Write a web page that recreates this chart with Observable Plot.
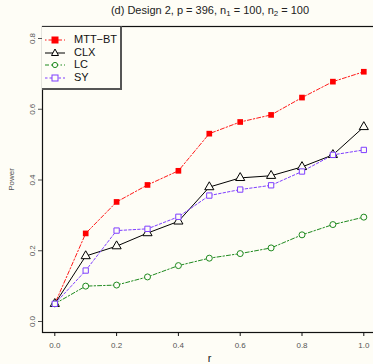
<!DOCTYPE html>
<html><head><meta charset="utf-8">
<script src="https://cdn.jsdelivr.net/npm/d3@7"></script>
<script src="https://cdn.jsdelivr.net/npm/@observablehq/plot@0.6"></script>
<style>
html,body{margin:0;padding:0;background:#fefdf6;}
#wrap{position:relative;width:373px;height:364px;font-family:"Liberation Sans",Arial,sans-serif;overflow:hidden;}
#title{position:absolute;left:0;width:420px;top:4px;text-align:center;font-size:11px;color:#222;}
#title sub{font-size:8px;vertical-align:-2px;line-height:0;}
#legend{position:absolute;left:42px;top:26px;width:80px;height:64px;border:1px solid #333;border-left:none;border-bottom:2px solid #555;border-right:2px solid #555;box-sizing:border-box;background:#fefdf6;}
.li{position:absolute;left:0;height:12px;font-size:11px;color:#111;}
.li svg{position:absolute;left:2px;top:0;}
.li span{position:absolute;left:32px;top:-1px;white-space:nowrap;}
</style></head>
<body><div id="wrap"><div id="title">(d) Design 2, p = 396, n<sub>1</sub> = 100, n<sub>2</sub> = 100</div><div id="chart"></div><div id="legend"></div></div>
<script>
const r = [0, 0.1, 0.2, 0.3, 0.4, 0.5, 0.6, 0.7, 0.8, 0.9, 1.0];
const mttbt = [0.05, 0.249, 0.338, 0.386, 0.426, 0.531, 0.564, 0.584, 0.633, 0.678, 0.706];
const clx   = [0.05, 0.185, 0.213, 0.250, 0.283, 0.380, 0.406, 0.412, 0.437, 0.471, 0.550];
const lc    = [0.05, 0.100, 0.103, 0.126, 0.158, 0.179, 0.192, 0.208, 0.245, 0.274, 0.295];
const sy    = [0.05, 0.144, 0.257, 0.262, 0.296, 0.356, 0.373, 0.385, 0.424, 0.471, 0.485];
const seriesNames = ["MTT\u2212BT", "CLX", "LC", "SY"];
const xTicks = [0, 0.2, 0.4, 0.6, 0.8, 1.0];
const yTicks = [0, 0.2, 0.4, 0.6, 0.8];

const styles = {
  "MTT\u2212BT": {color: "#ff0000", dash: "1.5,2,4,2", symbol: "square", fill: "#ff0000", r: 3.2, sw: 0.9},
  "CLX": {color: "#000000", dash: null, symbol: "triangle", fill: "none", r: 3.4, sw: 1},
  "LC": {color: "#1f8a1f", dash: "4,2,1.5,2", symbol: "circle", fill: "none", r: 3.0, sw: 1},
  "SY": {color: "#7f3fff", dash: "2.5,2", symbol: "square", fill: "none", r: 3.0, sw: 1}
};
const vals = [mttbt, clx, lc, sy];
const data = seriesNames.map((s, i) => r.map((x, j) => ({r: x, v: vals[i][j], s})));

const marks = [
  Plot.frame({stroke: "#111", strokeWidth: 1.2}),
  Plot.axisX({ticks: xTicks, tickFormat: d3.format(".1f"), tickSize: 4, fontSize: 8, color: "#555", stroke: "#111", tickPadding: 6, label: null}),
  Plot.axisX({ticks: [], label: "r", fontSize: 11, color: "#222", labelAnchor: "center", labelOffset: 29, labelArrow: false}),
  Plot.axisY({ticks: yTicks, tickFormat: d3.format(".1f"), tickSize: 4, fontSize: 8, color: "#555", tickRotate: -90, tickPadding: 4, label: "Power", labelAnchor: "center", labelOffset: 34, labelArrow: false})
];
data.forEach(d => {
  const st = styles[d[0].s];
  marks.push(Plot.line(d, {x: "r", y: "v", stroke: st.color, strokeWidth: st.sw, strokeDasharray: st.dash}));
});
data.forEach(d => {
  const st = styles[d[0].s];
  marks.push(Plot.dot(d, {x: "r", y: "v", stroke: st.fill === "none" ? st.color : null, fill: st.fill === "none" ? "#fefdf6" : st.fill, symbol: st.symbol, r: st.r, strokeWidth: 1}));
});

const chart = Plot.plot({
  width: 373, height: 364,
  marginLeft: 42, marginTop: 26, marginBottom: 32, marginRight: -3,
  style: {background: "transparent", fontFamily: "'Liberation Sans', Arial, sans-serif"},
  x: {domain: [0, 1], range: [54.3, 363.3]},
  y: {domain: [0, 0.8], range: [321, 38]},
  marks
});
document.getElementById("chart").appendChild(chart);

// legend
const leg = document.getElementById("legend");
seriesNames.forEach((s, i) => {
  const st = styles[s];
  const div = document.createElement("div");
  div.className = "li";
  div.style.top = (7 + i * 12.6) + "px";
  const sym = st.symbol === "square" ? `<rect x="8" y="3" width="6" height="6" fill="${st.fill === "none" ? "#fefdf6" : st.fill}" stroke="${st.color}"/>`
    : st.symbol === "triangle" ? `<path d="M11,2 L14.5,8.5 L7.5,8.5 Z" fill="#fefdf6" stroke="${st.color}"/>`
    : `<circle cx="11" cy="6" r="2.6" fill="#fefdf6" stroke="${st.color}"/>`;
  div.innerHTML = `<svg width="24" height="12"><line x1="1" y1="6" x2="21" y2="6" stroke="${st.color}" stroke-width="${st.sw}" ${st.dash ? `stroke-dasharray="${st.dash}"` : ""}/>${sym}</svg><span>${s}</span>`;
  leg.appendChild(div);
});
</script></body></html>
